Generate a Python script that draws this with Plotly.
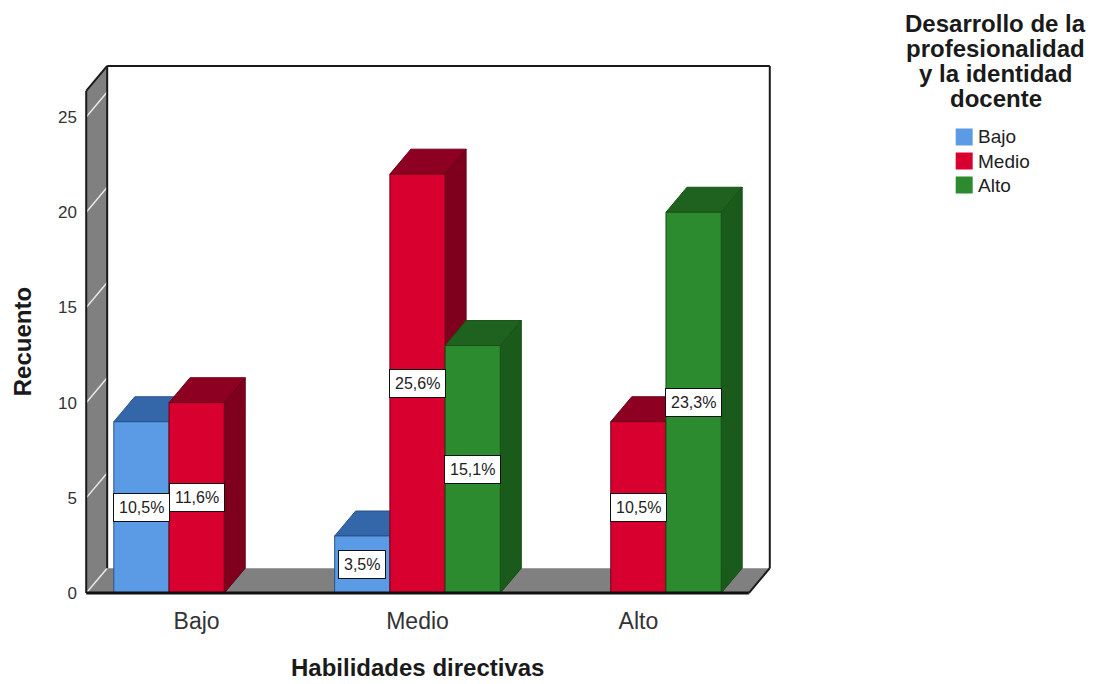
import plotly.graph_objects as go

# Habilidades directivas (x categories) vs. Desarrollo de la profesionalidad (series)
categories = ["Bajo", "Medio", "Alto"]
series_names = ["Bajo", "Medio", "Alto"]
counts_bajo = [9, 3, 0]
counts_medio = [10, 22, 9]
counts_alto = [0, 13, 20]
y_ticks = [0, 5, 10, 15, 20, 25]

series_counts = [counts_bajo, counts_medio, counts_alto]

front_colors = ["#5B9BE6", "#D7002F", "#2B8B2E"]
top_colors = ["#3467A9", "#8E0021", "#1F621F"]
side_colors = ["#2D5C98", "#7E001C", "#1A5A1A"]
edge_colors = ["#27508A", "#6A0018", "#165016"]
WALL = "#808080"

FONT = "Liberation Sans, Arial, sans-serif"
BW = 0.25      # bar width (category units)
DX = 0.095     # oblique depth along x
DY = 1.31      # oblique depth along y
Y_TOP = 26.37  # front top of the box
X_LO, X_HI = -0.5, len(categories) - 0.5
PADX, PADY = 0.01, 0.1   # keep box edges inside the clip area

total = sum(sum(s) for s in series_counts)


def poly(points):
    return "M " + " L ".join(f"{x:.4f},{y:.4f}" for x, y in points) + " Z"


def pct_label(v):
    return f"{v / total * 100:.1f}".replace(".", ",") + "%"


fig = go.Figure()
shapes = []

# floor
shapes.append(dict(type="path", layer="below", xref="x", yref="y",
                   path=poly([(X_LO, 0), (X_HI, 0), (X_HI + DX, DY), (X_LO + DX, DY)]),
                   fillcolor=WALL, line=dict(width=0)))

annotations = []

# bars: front faces as Bar traces, top and side faces as oblique polygons
for ci in range(len(categories)):
    for k, vals in enumerate(series_counts):
        h = vals[ci]
        if h <= 0:
            continue
        xc = ci + (k - 1) * BW
        x0, x1 = xc - BW / 2, xc + BW / 2
        shapes.append(dict(type="path", layer="below", xref="x", yref="y",
                           path=poly([(x0, h), (x1, h), (x1 + DX, h + DY), (x0 + DX, h + DY)]),
                           fillcolor=top_colors[k], line=dict(color=edge_colors[k], width=1)))
        shapes.append(dict(type="path", layer="below", xref="x", yref="y",
                           path=poly([(x1, 0), (x1 + DX, DY), (x1 + DX, h + DY), (x1, h)]),
                           fillcolor=side_colors[k], line=dict(color=edge_colors[k], width=1)))
        annotations.append(dict(x=xc, y=h / 2, xref="x", yref="y", text=pct_label(h),
                                showarrow=False, bgcolor="white", bordercolor="#111111",
                                borderwidth=1, borderpad=5,
                                font=dict(family=FONT, size=16, color="#222222")))

for k, vals in enumerate(series_counts):
    xs = [ci + (k - 1) * BW for ci in range(len(categories)) if vals[ci] > 0]
    ys = [v for v in vals if v > 0]
    fig.add_trace(go.Bar(x=xs, y=ys, width=BW, showlegend=False,
                         marker=dict(color=front_colors[k], line=dict(color=edge_colors[k], width=1)),
                         hoverinfo="skip"))

# left wall
wx = [X_LO, X_LO, X_LO + DX, X_LO + DX, X_LO]
wy = [0, Y_TOP, Y_TOP + DY, DY, 0]
fig.add_trace(go.Scatter(x=wx, y=wy, mode="lines", fill="toself", fillcolor=WALL,
                         line=dict(width=0, color=WALL), showlegend=False, hoverinfo="skip"))

# white gridlines on the left wall
for v in y_ticks:
    shapes.append(dict(type="line", layer="above", xref="x", yref="y",
                       x0=X_LO, y0=v, x1=X_LO + DX, y1=v + DY,
                       line=dict(color="#E8E8E8", width=1.5)))
# box edges
edges = [
    ((X_LO, 0), (X_LO, Y_TOP)),
    ((X_LO, Y_TOP), (X_LO + DX, Y_TOP + DY)),
    ((X_LO + DX, DY), (X_LO + DX, Y_TOP + DY)),
    ((X_LO + DX, Y_TOP + DY), (X_HI + DX, Y_TOP + DY)),
    ((X_HI + DX, Y_TOP + DY), (X_HI + DX, DY)),
    ((X_HI, 0), (X_HI + DX, DY)),
]
for (xa, ya), (xb, yb) in edges:
    shapes.append(dict(type="line", layer="above", xref="x", yref="y",
                       x0=xa, y0=ya, x1=xb, y1=yb, line=dict(color="#1A1A1A", width=2)))
# front floor edge
shapes.append(dict(type="line", layer="above", xref="x", yref="y", x0=X_LO, y0=0, x1=X_HI, y1=0,
                   line=dict(color="#111111", width=3)))

W, H = 1103, 684
X_RANGE = [X_LO - PADX, X_HI + DX + PADX]
Y_RANGE = [-PADY, Y_TOP + DY + PADY / 2]
PX_PER_X = 221.0
PX_PER_Y = 19.04
FRONT_LEFT_PX, FLOOR_PX = 86, 593
L = FRONT_LEFT_PX - PADX * PX_PER_X
pw = (X_RANGE[1] - X_RANGE[0]) * PX_PER_X
R = W - L - pw
B = H - FLOOR_PX - PADY * PX_PER_Y
ph = (Y_RANGE[1] - Y_RANGE[0]) * PX_PER_Y
T = H - B - ph


def px_x(px):
    return (px - L) / pw


def px_y(py):
    return (H - B - py) / ph


# axis titles
annotations.append(dict(x=1, y=px_y(667), xref="x", yref="paper", text="<b>Habilidades directivas</b>",
                        xanchor="center", yanchor="middle", showarrow=False,
                        font=dict(family=FONT, size=24, color="#1A1A1A")))
annotations.append(dict(x=px_x(22), y=Y_TOP / 2, xref="paper", yref="y", text="<b>Recuento</b>",
                        xanchor="center", yanchor="middle", textangle=-90, showarrow=False,
                        font=dict(family=FONT, size=24, color="#1A1A1A")))

# legend title, one annotation per line
legend_title = ["Desarrollo de la", "profesionalidad", "y la identidad", "docente"]
for i, line in enumerate(legend_title):
    annotations.append(dict(x=px_x(996), y=px_y(24 + i * 25), xref="paper", yref="paper",
                            xanchor="center", yanchor="middle",
                            text=f"<b>{line}</b>", showarrow=False,
                            font=dict(family=FONT, size=24, color="#1A1A1A")))

# legend entries: colour swatch plus label
for k, name in enumerate(series_names):
    cy = 137 + k * 24
    shapes.append(dict(type="rect", xref="paper", yref="paper", layer="above",
                       x0=px_x(956), x1=px_x(973), y0=px_y(cy - 8.5), y1=px_y(cy + 8.5),
                       fillcolor=front_colors[k], line=dict(width=0)))
    annotations.append(dict(x=px_x(976), y=px_y(cy), xref="paper", yref="paper",
                            xanchor="left", yanchor="middle", text=name, showarrow=False,
                            font=dict(family=FONT, size=19, color="#222222")))

fig.update_layout(
    width=W, height=H,
    margin=dict(l=L, r=R, t=T, b=B, autoexpand=False),
    paper_bgcolor="white", plot_bgcolor="white",
    barmode="overlay",
    shapes=shapes,
    annotations=annotations,
    showlegend=False,
    xaxis=dict(range=X_RANGE, tickvals=list(range(len(categories))), ticktext=categories,
               showgrid=False, zeroline=False, showline=False, ticks="",
               ticklabelstandoff=10, tickfont=dict(family=FONT, size=23, color="#333333"),
               fixedrange=True),
    yaxis=dict(range=Y_RANGE, tickvals=y_ticks, showgrid=False, zeroline=False,
               showline=False, ticks="", ticklabelstandoff=6,
               tickfont=dict(family=FONT, size=17, color="#333333"), fixedrange=True),
)

fig.write_html("out.html")
